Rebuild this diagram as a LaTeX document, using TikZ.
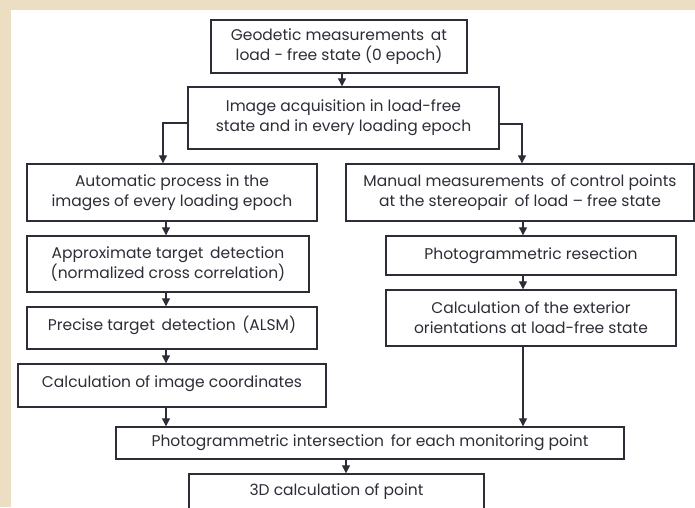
\documentclass[tikz,border=0pt]{standalone}
\usepackage{fontspec}
\setmainfont{Poppins}
\usetikzlibrary{arrows.meta}
\definecolor{sand}{RGB}{236,222,195}
\definecolor{ink}{RGB}{45,45,55}
\begin{document}
\begin{tikzpicture}
[x=1pt,y=-1pt,
	box/.style={draw=ink,line width=1.4pt,align=center,text=ink,inner sep=0pt,
		font=\fontsize{15.5}{20}\selectfont},
	arr/.style={draw=ink,line width=1.2pt,-{Triangle[length=8pt,width=8pt]}}]
\useasboundingbox (0,0) rectangle (695,507);
\fill[sand] (0,0) rectangle (695,507);
\fill[white] (11,10) rectangle (695,507);

\node[box,minimum width=256pt,minimum height=53pt] (geo) at (339,46.5)
	{Geodetic measurements\, at\\load - free state (0 epoch)};
\node[box,minimum width=311pt,minimum height=62pt] (acq) at (343.5,118)
	{Image acquisition in load-free\\state and in every loading epoch};
\node[box,minimum width=290pt,minimum height=57pt] (auto) at (172,192.5)
	{Automatic process in the\\images of every loading epoch};
\node[box,minimum width=348pt,minimum height=57pt] (manual) at (520,192.5)
	{Manual measurements\, of control points\\at the stereopair\, of load -- free state};
\node[box,minimum width=282pt,minimum height=56pt] (approx) at (168,264)
	{Approximate target\, detection\\(normalized cross correlation)};
\node[box,minimum width=290pt,minimum height=39pt] (resect) at (531,255.5)
	{Photogrammetric resection};
\node[box,minimum width=290pt,minimum height=42pt] (precise) at (172,328)
	{Precise target\, detection\, (ALSM)\\[-10pt]};
\node[box,minimum width=290pt,minimum height=56pt] (extor) at (531,318)
	{Calculation of the exterior\\orientations at load-free state};
\node[box,minimum width=308pt,minimum height=43pt] (imgco) at (172,385.5)
	{Calculation of image coordinates\\[-13pt]};
\node[box,minimum width=508pt,minimum height=32pt] (inter) at (370,443)
	{Photogrammetric intersection\, for each monitoring point};
\node[box,minimum width=295pt,minimum height=35pt] (pt3d) at (336.5,491.5)
	{3D calculation of point};

\coordinate (lcol) at (166,0);
\coordinate (rcol) at (523,0);

\draw[arr] ([xshift=3pt]geo.south) -- ([xshift=3pt]geo.south |- acq.north);
\draw[arr] ([yshift=-5pt]acq.west) -| ([xshift=-9pt]auto.north);
\draw[arr] ([yshift=-6pt]acq.east) -| ([xshift=2pt]manual.north);
\foreach \a/\b in {auto/approx,approx/precise,precise/imgco,imgco/inter}
	\draw[arr] (\a.south -| lcol) -- (\b.north -| lcol);
\foreach \a/\b in {manual/resect,resect/extor,extor/inter}
	\draw[arr] (\a.south -| rcol) -- (\b.north -| rcol);
\draw[arr] ([xshift=-24pt]inter.south) -- ([xshift=-24pt]inter.south |- pt3d.north);
\end{tikzpicture}
\end{document}
